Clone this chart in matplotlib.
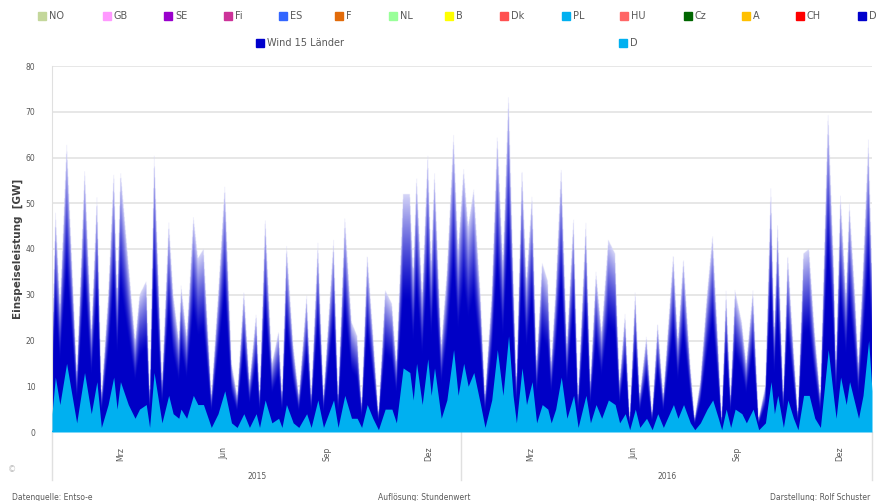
import numpy as np
import matplotlib
matplotlib.use("Agg")
import matplotlib.pyplot as plt
from matplotlib.patches import Rectangle

days = [0, 3, 7, 13, 22, 29, 35, 40, 44, 50, 55, 58, 61, 68, 74, 78, 84, 87, 91, 98,
        104, 108, 113, 115, 120, 126, 130, 135, 142, 148, 154, 160, 165, 171, 176, 182,
        185, 190, 196, 202, 205, 209, 215, 220, 227, 231, 237, 242, 251, 255, 261, 267,
        272, 276, 281, 286, 291, 297, 303, 307, 313, 319, 322, 325, 330, 335, 338, 341,
        347, 352, 358, 362, 367, 371, 376, 382, 386, 392, 397, 402, 407, 411, 414, 419,
        423, 428, 432, 437, 442, 445, 449, 454, 459, 465, 469, 476, 480, 485, 490, 496,
        502, 506, 511, 515, 520, 524, 530, 535, 540, 545, 554, 558, 563, 569, 573, 578,
        584, 589, 594, 597, 601, 605, 609, 615, 619, 625, 630, 636, 641, 644, 647, 652,
        656, 661, 665, 670, 675, 680, 685, 692, 697, 699, 703, 708, 711, 716, 719, 723,
        728, 731]
wind_15 = [20, 48, 28, 63, 13, 57.5, 22, 52, 8, 30, 57, 30, 57, 37, 20, 30, 33, 8, 61, 11,
           46, 30, 20, 32, 21, 47, 38, 40, 8, 30, 54, 15, 8, 31, 11, 26,
           8, 47, 15, 22, 8, 41, 19, 8, 30, 8, 41.5, 8, 42, 8, 47, 24,
           21, 6, 39, 22, 4, 31, 28, 15, 52, 52, 35, 56, 30, 61, 37, 57,
           19, 35, 65, 40, 57.5, 45, 53, 30, 8, 30, 65, 37, 74, 37, 11, 58,
           33, 52, 15, 37, 33, 15, 31, 58, 19, 47, 8, 46, 11, 35, 22, 42,
           39, 11, 26, 3, 31, 8, 21, 4, 24, 8, 39, 20, 38, 15, 3, 11,
           30, 43, 19, 3, 31, 8, 31, 24, 15, 31, 3, 10, 54, 22, 46, 8,
           39, 19, 4, 39, 40, 22, 8, 70, 37, 15, 52, 30, 50, 30, 15, 35,
           64, 37]
wind_d = [4, 12, 6, 15, 2, 13, 4, 11, 1, 6, 12, 5, 11, 6, 3, 5, 6, 1, 13, 2,
          8, 4, 3, 5, 3, 8, 6, 6, 1, 4, 9, 2, 1, 4, 1, 4,
          1, 7, 2, 3, 1, 6, 2, 1, 4, 1, 7, 1, 7, 1, 8, 3,
          3, 1, 6, 3, 0.5, 5, 5, 2, 14, 13, 7, 15, 6, 16, 8, 14,
          3, 7, 18, 8, 15, 10, 13, 6, 1, 7, 18, 8, 21, 8, 2, 14,
          6, 11, 2, 6, 5, 2, 5, 12, 3, 8, 1, 8, 2, 6, 3, 7,
          6, 2, 4, 0.5, 5, 1, 3, 0.5, 4, 1, 6, 3, 6, 2, 0.5, 2,
          5, 7, 3, 0.5, 5, 1, 5, 4, 2, 5, 0.5, 2, 11, 4, 8, 1,
          7, 3, 0.5, 8, 8, 3, 1, 18, 7, 3, 12, 6, 11, 6, 3, 8,
          20, 9]

month_days = [59, 151, 243, 334, 425, 517, 609, 700]
month_labels = ["Mrz", "Jun", "Sep", "Dez", "Mrz", "Jun", "Sep", "Dez"]
years = ["2015", "2016"]
year_bounds = [0, 365, 731]

legend_row1 = ["NO", "GB", "SE", "Fi", "ES", "F", "NL", "B", "Dk", "PL", "HU", "Cz", "A", "CH", "D"]
legend_col1 = ["#c4d79b", "#ff99ff", "#9900cc", "#cc3399", "#3366ff", "#e26b0a", "#99ff99",
               "#ffff00", "#ff5050", "#00b0f0", "#ff6666", "#006600", "#ffc000", "#ff0000", "#0000cc"]

W, H = 879, 501
fig = plt.figure(figsize=(W / 100, H / 100), dpi=100)
ax = fig.add_axes([52 / W, 1 - 432 / H, 820 / W, 366 / H])

x = np.array(days, dtype=float)
tot = np.array(wind_15, dtype=float)
dd = np.array(wind_d, dtype=float)

# Farbverlauf fuer die Windflaeche: unten dunkelblau, Spitzen blass
nx, ny = 2200, 900
gx = np.linspace(0, 731, nx)
gy = np.linspace(0, 80, ny)
t = np.interp(gx, x, tot)
frac = gy[:, None] / np.maximum(t[None, :], 0.1)
w = np.clip((frac - 0.55) / 0.45, 0, 1) ** 1.3
dark = np.array([0.0, 0.0, 0.78])
light = np.array([0.84, 0.84, 0.97])
img = np.zeros((ny, nx, 4))
img[..., :3] = dark * (1 - w[..., None]) + light * w[..., None]
img[..., 3] = (frac <= 1).astype(float)
ax.imshow(img, extent=[0, 731, 0, 80], origin="lower", aspect="auto",
          interpolation="bilinear", zorder=2)

ax.fill_between(x, 0, dd, color="#00b0f0", lw=0, zorder=3)
ax.axhline(0, color="#00b0f0", lw=2.5, zorder=4)

ax.set_xlim(0, 731)
ax.set_ylim(0, 80)
ax.set_yticks(np.arange(0, 81, 10))
ax.set_yticklabels([str(v) for v in range(0, 81, 10)], fontsize=5.5, color="#595959")
ax.yaxis.grid(True, color="#e3e3e3", lw=1.2, zorder=0)
ax.set_axisbelow(True)
ax.tick_params(axis="y", length=0, pad=12)
ax.set_xticks([])
for s in ["top", "right", "bottom"]:
    ax.spines[s].set_visible(False)
ax.spines["left"].set_color("#e0e0e0")
ax.set_ylabel("Einspeiseleistung  [GW]", fontsize=7.5, color="#404040",
              fontweight="bold", labelpad=2)

# Monats- und Jahresbeschriftung
for d, lab in zip(month_days, month_labels):
    ax.text(d + 2, -3.2, lab, rotation=90, ha="center", va="top", fontsize=5.5, color="#595959")
for i, yr in enumerate(years):
    ax.text((year_bounds[i] + year_bounds[i + 1]) / 2, -9.8, yr, ha="center", va="center",
            fontsize=5.5, color="#595959")
for b in year_bounds:
    ax.plot([b, b], [0, -10.5], color="#e0e0e0", lw=1, clip_on=False, zorder=1)

# Legende
mx1 = [42, 107, 168, 228, 283, 339, 393, 449, 504, 566, 624, 688, 746, 800, 862]
for px, lab, col in zip(mx1, legend_row1, legend_col1):
    fig.patches.append(Rectangle(((px - 4) / W, 1 - 20 / H), 8 / W, 8 / H,
                                 transform=fig.transFigure, color=col))
    fig.text((px + 7) / W, 1 - 16 / H, lab, fontsize=7, color="#595959", va="center")
for px, lab, col in [(260, "Wind 15 Länder", "#0000cc"), (623, "D", "#00b0f0")]:
    fig.patches.append(Rectangle(((px - 4) / W, 1 - 47 / H), 8 / W, 8 / H,
                                 transform=fig.transFigure, color=col))
    fig.text((px + 7) / W, 1 - 43 / H, lab, fontsize=7, color="#595959", va="center")

# Fusszeile
fig.text(8 / W, 1 - 470 / H, "©", fontsize=6, color="#bbbbbb", va="center")
fig.text(12 / W, 1 - 497 / H, "Datenquelle: Entso-e", fontsize=5.5, color="#595959", va="center")
fig.text(378 / W, 1 - 497 / H, "Auflösung: Stundenwert", fontsize=5.5, color="#595959", va="center")
fig.text(870 / W, 1 - 497 / H, "Darstellung: Rolf Schuster", fontsize=5.5, color="#595959",
         va="center", ha="right")

fig.savefig("out.png", dpi=100)
